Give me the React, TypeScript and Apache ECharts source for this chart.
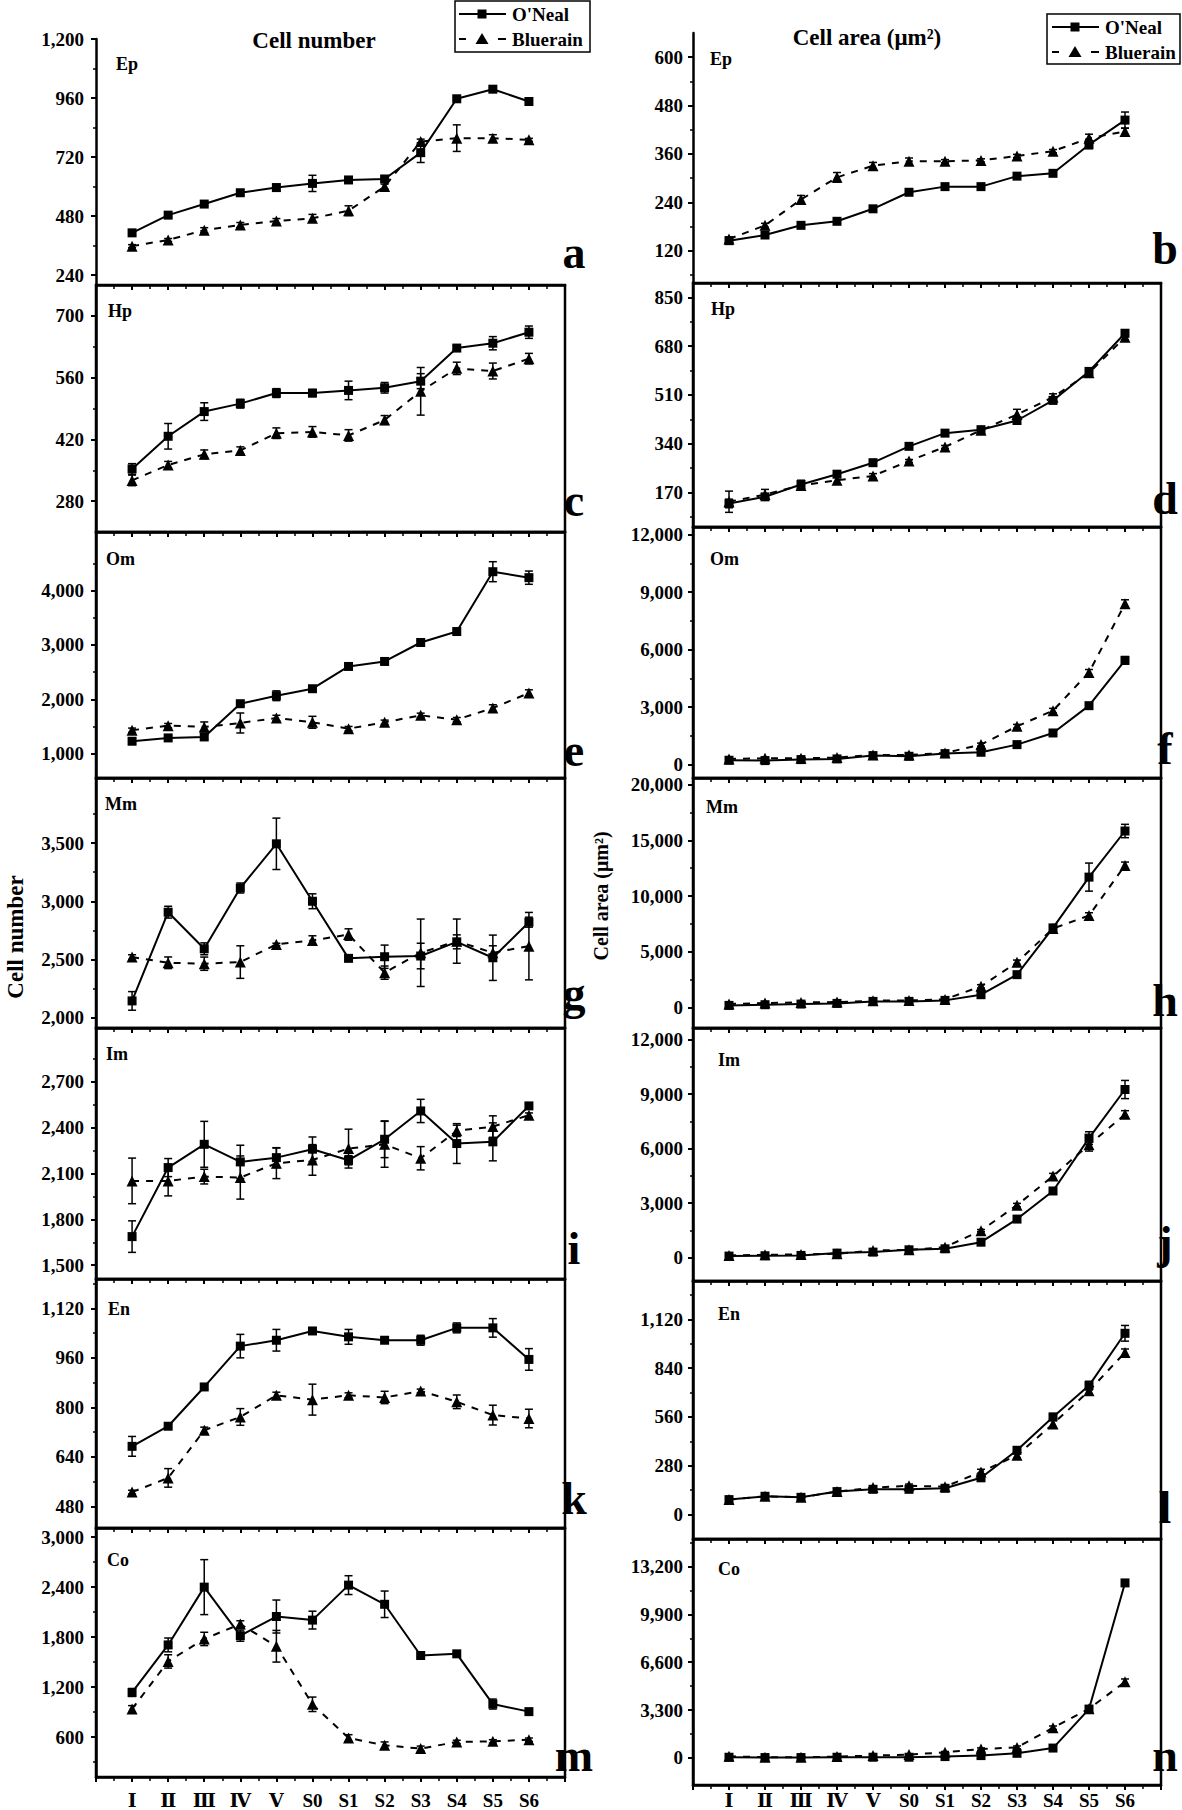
import React, { useEffect, useRef } from "react";
import * as echarts from "echarts";

const categories = ["Ⅰ", "Ⅱ", "Ⅲ", "Ⅳ", "Ⅴ", "S0", "S1", "S2", "S3", "S4", "S5", "S6"];
const seriesNames = ["O'Neal", "Bluerain"];

// a: Ep cell number
const epNumberONeal = [412, 484, 529, 575, 596, 613, 627, 631, 738, 957, 996, 946];
const epNumberONealErr = [6, 6, 6, 6, 14, 33, 6, 6, 40, 6, 6, 12];
const epNumberBluerain = [358, 383, 423, 444, 460, 471, 502, 600, 783, 797, 797, 790];
const epNumberBluerainErr = [6, 6, 10, 10, 10, 16, 20, 10, 10, 54, 14, 6];
const epNumberTicks = [240, 480, 720, 960, 1200];
const epNumberMinor = [360, 600, 840, 1080];

// b: Ep cell area
const epAreaONeal = [145, 159, 183, 193, 224, 265, 279, 279, 305, 312, 383, 444];
const epAreaONealErr = [5, 5, 5, 5, 5, 5, 5, 5, 6, 5, 10, 20];
const epAreaBluerain = [149, 183, 247, 302, 331, 342, 342, 344, 355, 367, 399, 416];
const epAreaBluerainErr = [5, 5, 10, 12, 8, 8, 4, 4, 4, 4, 10, 8];
const epAreaTicks = [120, 240, 360, 480, 600];
const epAreaMinor = [60, 180, 300, 420, 540];

// c: Hp cell number
const hpNumberONeal = [353, 427, 483, 501, 525, 525, 531, 537, 552, 627, 638, 663];
const hpNumberONealErr = [12, 29, 20, 10, 10, 8, 21, 12, 17, 5, 15, 14];
const hpNumberBluerain = [327, 362, 386, 395, 434, 437, 429, 464, 529, 581, 575, 603];
const hpNumberBluerainErr = [12, 8, 10, 8, 12, 12, 13, 10, 54, 14, 18, 12];
const hpNumberTicks = [280, 420, 560, 700];
const hpNumberMinor = [350, 490, 630];

// d: Hp cell area
const hpAreaONeal = [132, 155, 198, 234, 274, 331, 377, 389, 421, 491, 592, 725];
const hpAreaONealErr = [15, 10, 15, 10, 5, 5, 5, 8, 10, 8, 10, 12];
const hpAreaBluerain = [138, 163, 195, 213, 228, 280, 329, 387, 442, 502, 587, 711];
const hpAreaBluerainErr = [37, 18, 12, 10, 8, 5, 5, 8, 18, 12, 10, 10];
const hpAreaTicks = [170, 340, 510, 680, 850];
const hpAreaMinor = [85, 255, 425, 595, 765];

// e: Om cell number
const omNumberONeal = [1227, 1288, 1306, 1918, 2065, 2194, 2604, 2696, 3045, 3247, 4349, 4239];
const omNumberONealErr = [50, 40, 40, 40, 90, 50, 40, 40, 40, 40, 184, 122];
const omNumberBluerain = [1429, 1514, 1490, 1563, 1655, 1576, 1459, 1576, 1704, 1624, 1839, 2114];
const omNumberBluerainErr = [40, 40, 92, 184, 50, 110, 40, 40, 40, 40, 60, 60];
const omNumberTicks = [1000, 2000, 3000, 4000];
const omNumberMinor = [1500, 2500, 3500, 4500];

// f: Om cell area
const omAreaONeal = [226, 208, 261, 295, 469, 434, 573, 643, 1042, 1650, 3075, 5438];
const omAreaONealErr = [50, 50, 50, 50, 50, 50, 50, 60, 80, 100, 150, 200];
const omAreaBluerain = [295, 330, 330, 365, 504, 504, 608, 1042, 1998, 2814, 4812, 8391];
const omAreaBluerainErr = [50, 50, 50, 50, 50, 50, 50, 80, 100, 120, 150, 210];
const omAreaTicks = [0, 3000, 6000, 9000, 12000];
const omAreaMinor = [1500, 4500, 7500, 10500];

// g: Mm cell number
const mmNumberONeal = [2143, 2906, 2591, 3114, 3494, 3000, 2509, 2523, 2529, 2651, 2514, 2820];
const mmNumberONealErr = [80, 51, 51, 43, 221, 64, 10, 100, 110, 60, 195, 43];
const mmNumberBluerain = [2520, 2471, 2463, 2477, 2629, 2663, 2714, 2386, 2557, 2657, 2557, 2614];
const mmNumberBluerainErr = [20, 50, 57, 140, 10, 40, 49, 57, 290, 190, 60, 290];
const mmNumberTicks = [2000, 2500, 3000, 3500];
const mmNumberMinor = [2250, 2750, 3250, 3750];

// h: Mm cell area
const mmAreaONeal = [180, 240, 300, 360, 540, 540, 630, 1140, 2940, 7140, 11700, 15840];
const mmAreaONealErr = [100, 100, 100, 100, 100, 100, 100, 150, 200, 250, 1260, 600];
const mmAreaBluerain = [300, 390, 450, 480, 600, 630, 720, 1890, 4050, 7080, 8250, 12750];
const mmAreaBluerainErr = [100, 100, 100, 100, 100, 100, 100, 150, 200, 250, 250, 300];
const mmAreaTicks = [0, 5000, 10000, 15000, 20000];
const mmAreaMinor = [2500, 7500, 12500, 17500];

// i: Im cell number
const imNumberONeal = [1687, 2138, 2290, 2175, 2203, 2258, 2186, 2323, 2508, 2295, 2306, 2541];
const imNumberONealErr = [103, 59, 150, 109, 65, 80, 30, 120, 76, 130, 124, 15];
const imNumberBluerain = [2051, 2051, 2079, 2073, 2166, 2188, 2262, 2290, 2199, 2378, 2406, 2480];
const imNumberBluerainErr = [149, 98, 48, 141, 100, 100, 127, 150, 76, 37, 70, 15];
const imNumberTicks = [1500, 1800, 2100, 2400, 2700];
const imNumberMinor = [1650, 1950, 2250, 2550, 2850];

// j: Im cell area
const imAreaONeal = [91, 109, 127, 255, 309, 436, 491, 855, 2127, 3673, 6582, 9255];
const imAreaONealErr = [50, 50, 50, 50, 50, 50, 50, 60, 100, 150, 350, 500];
const imAreaBluerain = [127, 164, 182, 218, 400, 436, 582, 1491, 2891, 4491, 6218, 7891];
const imAreaBluerainErr = [50, 50, 50, 50, 50, 50, 50, 60, 100, 150, 350, 200];
const imAreaTicks = [0, 3000, 6000, 9000, 12000];
const imAreaMinor = [1500, 4500, 7500, 10500];

// k: En cell number
const enNumberONeal = [674, 739, 866, 998, 1017, 1047, 1028, 1017, 1017, 1057, 1057, 955];
const enNumberONealErr = [32, 6, 6, 38, 35, 6, 24, 6, 16, 16, 30, 35];
const enNumberBluerain = [526, 572, 726, 769, 839, 825, 839, 832, 853, 818, 775, 764];
const enNumberBluerainErr = [6, 30, 10, 27, 10, 50, 8, 20, 6, 22, 32, 30];
const enNumberTicks = [480, 640, 800, 960, 1120];
const enNumberMinor = [560, 720, 880, 1040, 1200];

// l: En cell area
const enAreaONeal = [86, 105, 99, 132, 145, 145, 151, 211, 369, 560, 740, 1040];
const enAreaONealErr = [10, 10, 10, 10, 10, 10, 10, 15, 20, 20, 25, 45];
const enAreaBluerain = [86, 105, 99, 132, 155, 165, 160, 245, 340, 520, 710, 930];
const enAreaBluerainErr = [10, 10, 10, 10, 10, 10, 10, 15, 15, 20, 20, 20];
const enAreaTicks = [0, 280, 560, 840, 1120];
const enAreaMinor = [140, 420, 700, 980, 1260];

// m: Co cell number
const coNumberONeal = [1135, 1706, 2400, 1817, 2047, 2004, 2424, 2194, 1579, 1599, 996, 905];
const coNumberONealErr = [48, 83, 330, 67, 198, 107, 113, 159, 20, 20, 60, 20];
const coNumberBluerain = [937, 1508, 1778, 1956, 1690, 993, 588, 501, 461, 541, 548, 568];
const coNumberBluerainErr = [40, 80, 80, 40, 190, 87, 40, 40, 30, 20, 20, 20];
const coNumberTicks = [600, 1200, 1800, 2400, 3000];
const coNumberMinor = [300, 900, 1500, 2100, 2700];

// n: Co cell area
const coAreaONeal = [45, 23, 23, 45, 45, 45, 90, 158, 316, 678, 3368, 12070];
const coAreaONealErr = [60, 60, 60, 60, 60, 60, 60, 60, 80, 100, 150, 200];
const coAreaBluerain = [113, 45, 45, 90, 158, 226, 384, 610, 723, 2080, 3391, 5244];
const coAreaBluerainErr = [60, 60, 60, 60, 60, 60, 60, 80, 100, 120, 150, 200];
const coAreaTicks = [0, 3300, 6600, 9900, 13200];
const coAreaMinor = [1650, 4950, 8250, 11550, 14850];

const FONT = '"Liberation Serif", "Times New Roman", "DejaVu Serif", serif';

type Panel = {
  tissue: string; letter: string; col: number; top: number; bottom: number;
  min: number; max: number; ticks: number[]; minor: number[];
  oneal: number[]; onealErr: number[]; blue: number[]; blueErr: number[];
  boxed: boolean; nameDx: number; nameDy: number; letterBase: number; xLabels?: number;
};

const panels: Panel[] = [
  { tissue: "Ep", letter: "a", col: 0, top: 39, bottom: 285, min: 200, max: 1200, ticks: epNumberTicks, minor: epNumberMinor, oneal: epNumberONeal, onealErr: epNumberONealErr, blue: epNumberBluerain, blueErr: epNumberBluerainErr, boxed: false, nameDx: 20, nameDy: 16, letterBase: 267 },
  { tissue: "Ep", letter: "b", col: 1, top: 33, bottom: 283, min: 40, max: 660, ticks: epAreaTicks, minor: epAreaMinor, oneal: epAreaONeal, onealErr: epAreaONealErr, blue: epAreaBluerain, blueErr: epAreaBluerainErr, boxed: false, nameDx: 17, nameDy: 17, letterBase: 263 },
  { tissue: "Hp", letter: "c", col: 0, top: 285, bottom: 532, min: 210, max: 770, ticks: hpNumberTicks, minor: hpNumberMinor, oneal: hpNumberONeal, onealErr: hpNumberONealErr, blue: hpNumberBluerain, blueErr: hpNumberBluerainErr, boxed: true, nameDx: 12, nameDy: 17, letterBase: 515 },
  { tissue: "Hp", letter: "d", col: 1, top: 283, bottom: 527, min: 50, max: 900, ticks: hpAreaTicks, minor: hpAreaMinor, oneal: hpAreaONeal, onealErr: hpAreaONealErr, blue: hpAreaBluerain, blueErr: hpAreaBluerainErr, boxed: true, nameDx: 18, nameDy: 17, letterBase: 513 },
  { tissue: "Om", letter: "e", col: 0, top: 532, bottom: 778, min: 550, max: 5080, ticks: omNumberTicks, minor: omNumberMinor, oneal: omNumberONeal, onealErr: omNumberONealErr, blue: omNumberBluerain, blueErr: omNumberBluerainErr, boxed: true, nameDx: 10, nameDy: 18, letterBase: 765 },
  { tissue: "Om", letter: "f", col: 1, top: 527, bottom: 778, min: -700, max: 12400, ticks: omAreaTicks, minor: omAreaMinor, oneal: omAreaONeal, onealErr: omAreaONealErr, blue: omAreaBluerain, blueErr: omAreaBluerainErr, boxed: true, nameDx: 17, nameDy: 23, letterBase: 763 },
  { tissue: "Mm", letter: "g", col: 0, top: 778, bottom: 1028, min: 1910, max: 4060, ticks: mmNumberTicks, minor: mmNumberMinor, oneal: mmNumberONeal, onealErr: mmNumberONealErr, blue: mmNumberBluerain, blueErr: mmNumberBluerainErr, boxed: true, nameDx: 9, nameDy: 17, letterBase: 1008 },
  { tissue: "Mm", letter: "h", col: 1, top: 778, bottom: 1028, min: -1850, max: 20600, ticks: mmAreaTicks, minor: mmAreaMinor, oneal: mmAreaONeal, onealErr: mmAreaONealErr, blue: mmAreaBluerain, blueErr: mmAreaBluerainErr, boxed: true, nameDx: 13, nameDy: 20, letterBase: 1015 },
  { tissue: "Im", letter: "i", col: 0, top: 1028, bottom: 1279, min: 1410, max: 3050, ticks: imNumberTicks, minor: imNumberMinor, oneal: imNumberONeal, onealErr: imNumberONealErr, blue: imNumberBluerain, blueErr: imNumberBluerainErr, boxed: true, nameDx: 10, nameDy: 17, letterBase: 1263 },
  { tissue: "Im", letter: "j", col: 1, top: 1028, bottom: 1281, min: -1280, max: 12640, ticks: imAreaTicks, minor: imAreaMinor, oneal: imAreaONeal, onealErr: imAreaONealErr, blue: imAreaBluerain, blueErr: imAreaBluerainErr, boxed: true, nameDx: 25, nameDy: 23, letterBase: 1257 },
  { tissue: "En", letter: "k", col: 0, top: 1279, bottom: 1528, min: 410, max: 1215, ticks: enNumberTicks, minor: enNumberMinor, oneal: enNumberONeal, onealErr: enNumberONealErr, blue: enNumberBluerain, blueErr: enNumberBluerainErr, boxed: true, nameDx: 12, nameDy: 21, letterBase: 1513 },
  { tissue: "En", letter: "l", col: 1, top: 1281, bottom: 1539, min: -140, max: 1340, ticks: enAreaTicks, minor: enAreaMinor, oneal: enAreaONeal, onealErr: enAreaONealErr, blue: enAreaBluerain, blueErr: enAreaBluerainErr, boxed: true, nameDx: 25, nameDy: 24, letterBase: 1522 },
  { tissue: "Co", letter: "m", col: 0, top: 1528, bottom: 1779, min: 120, max: 3110, ticks: coNumberTicks, minor: coNumberMinor, oneal: coNumberONeal, onealErr: coNumberONealErr, blue: coNumberBluerain, blueErr: coNumberBluerainErr, boxed: true, nameDx: 11, nameDy: 23, letterBase: 1770, xLabels: 14 },
  { tissue: "Co", letter: "n", col: 1, top: 1539, bottom: 1788, min: -1870, max: 15100, ticks: coAreaTicks, minor: coAreaMinor, oneal: coAreaONeal, onealErr: coAreaONealErr, blue: coAreaBluerain, blueErr: coAreaBluerainErr, boxed: true, nameDx: 25, nameDy: 21, letterBase: 1770, xLabels: 6 },
];

const fmt = (v: number) => Math.round(v).toLocaleString("en-US");

function errorRender(params: any, api: any) {
  const x = api.value(0);
  const y = api.value(1);
  const e = api.value(2);
  const top = api.coord([x, y + e]);
  const bot = api.coord([x, y - e]);
  const w = 4;
  const st = { stroke: "#000", lineWidth: 1.5 };
  return {
    type: "group",
    children: [
      { type: "line", shape: { x1: top[0], y1: top[1], x2: bot[0], y2: bot[1] }, style: st },
      { type: "line", shape: { x1: top[0] - w, y1: top[1], x2: top[0] + w, y2: top[1] }, style: st },
      { type: "line", shape: { x1: bot[0] - w, y1: bot[1], x2: bot[0] + w, y2: bot[1] }, style: st },
    ],
  };
}

function legendGraphics(x: number, y: number, w: number, h: number, lx: number, y1: number, y2: number, tx: number) {
  const t = (text: string, yy: number) => ({
    type: "text", x: tx, y: yy,
    style: { text, fill: "#000", font: `bold 19px ${FONT}`, align: "left", verticalAlign: "middle" },
  });
  const mid = lx + 23;
  return [
    { type: "rect", shape: { x, y, width: w, height: h }, style: { fill: "#fff", stroke: "#000", lineWidth: 1.5 } },
    { type: "line", shape: { x1: lx, y1, x2: lx + 47, y2: y1 }, style: { stroke: "#000", lineWidth: 2 } },
    { type: "rect", shape: { x: mid - 4.5, y: y1 - 4.5, width: 9, height: 9 }, style: { fill: "#000" } },
    t(seriesNames[0], y1),
    { type: "line", shape: { x1: lx, y1: y2, x2: lx + 7, y2 }, style: { stroke: "#000", lineWidth: 2 } },
    { type: "line", shape: { x1: lx + 39, y1: y2, x2: lx + 47, y2 }, style: { stroke: "#000", lineWidth: 2 } },
    { type: "polygon", shape: { points: [[mid, y2 - 6], [mid - 6.5, y2 + 5], [mid + 6.5, y2 + 5]] }, style: { fill: "#000" } },
    t(seriesNames[1], y2),
  ];
}

export default function App() {
  const ref = useRef<HTMLDivElement>(null);
  useEffect(() => {
    document.body.style.margin = "0";
    const chart = echarts.init(ref.current!, null, { renderer: "svg" });
    const grids: any[] = [];
    const xAxes: any[] = [];
    const yAxes: any[] = [];
    const series: any[] = [];
    const graphics: any[] = [];
    const lineCol = { color: "#000", width: 2.5 };

    panels.forEach((p, i) => {
      const left = p.col === 0 ? 96 : 693;
      const width = p.col === 0 ? 469 : 468;
      grids.push({
        left, top: p.top, width, height: p.bottom - p.top,
        show: p.boxed, borderColor: "#000", borderWidth: 2.5, backgroundColor: "transparent",
      });
      xAxes.push({
        gridIndex: i, type: "value", min: 0, max: 13, interval: 1,
        axisLine: { show: true, onZero: false, lineStyle: lineCol },
        axisTick: { show: true, inside: false, length: 5, lineStyle: { color: "#000", width: 2 } },
        minorTick: { show: true, splitNumber: 2, length: 4, lineStyle: { color: "#000", width: 1.5 } },
        splitLine: { show: false },
        axisLabel: {
          show: p.xLabels !== undefined,
          margin: p.xLabels ?? 8,
          formatter: (v: number) => (Number.isInteger(v) && v >= 1 && v <= 12 ? categories[v - 1] : ""),
          fontFamily: FONT, fontWeight: "bold", fontSize: 19, color: "#000",
        },
      });
      yAxes.push({
        gridIndex: i, type: "value", min: p.min, max: p.max, position: "left",
        axisLine: { show: true, onZero: false, lineStyle: lineCol },
        axisTick: { show: true, inside: false, length: 5, customValues: p.ticks, lineStyle: { color: "#000", width: 2 } },
        axisLabel: {
          customValues: p.ticks, formatter: (v: number) => fmt(v), margin: p.col === 0 ? 12 : 10,
          fontFamily: FONT, fontWeight: "bold", fontSize: 19, color: "#000",
        },
        splitLine: { show: false },
      });
      yAxes.push({
        gridIndex: i, type: "value", min: p.min, max: p.max, position: "left", offset: 0,
        axisLine: { show: false },
        axisTick: { show: true, inside: false, length: 3, customValues: p.minor, lineStyle: { color: "#000", width: 1.5 } },
        axisLabel: { show: false },
        splitLine: { show: false },
      });
      const yi = i * 2;
      const mk = (vals: number[], errs: number[]) => vals.map((v, k) => [k + 1, v, errs[k]]);
      series.push({
        type: "custom", name: seriesNames[0] + " error", xAxisIndex: i, yAxisIndex: yi,
        dimensions: ["x", "y", "err"], encode: { x: 0, y: 1 }, data: mk(p.oneal, p.onealErr),
        renderItem: errorRender, z: 2, silent: true,
      });
      series.push({
        type: "custom", name: seriesNames[1] + " error", xAxisIndex: i, yAxisIndex: yi,
        dimensions: ["x", "y", "err"], encode: { x: 0, y: 1 }, data: mk(p.blue, p.blueErr),
        renderItem: errorRender, z: 2, silent: true,
      });
      series.push({
        type: "line", name: seriesNames[0], xAxisIndex: i, yAxisIndex: yi,
        data: p.oneal.map((v, k) => [k + 1, v]),
        symbol: "rect", symbolSize: 9, showSymbol: true,
        itemStyle: { color: "#000" }, lineStyle: { color: "#000", width: 2, type: "solid" }, z: 3,
      });
      series.push({
        type: "line", name: seriesNames[1], xAxisIndex: i, yAxisIndex: yi,
        data: p.blue.map((v, k) => [k + 1, v]),
        symbol: "triangle", symbolSize: 11, showSymbol: true,
        itemStyle: { color: "#000" }, lineStyle: { color: "#000", width: 2, type: [7, 7] }, z: 3,
      });
      graphics.push({
        type: "text", x: left + p.nameDx, y: p.top + p.nameDy,
        style: { text: p.tissue, fill: "#000", font: `bold 18px ${FONT}`, align: "left", verticalAlign: "top" },
      });
      graphics.push({
        type: "text", x: p.col === 0 ? left + width + 9 : left + width + 4, y: p.letterBase - 15,
        style: { text: p.letter, fill: "#000", font: `bold 46px ${FONT}`, align: "center", verticalAlign: "middle" },
      });
    });

    graphics.push({
      type: "text", x: 314, y: 40,
      style: { text: "Cell number", fill: "#000", font: `bold 23px ${FONT}`, align: "center", verticalAlign: "middle" },
    });
    graphics.push({
      type: "text", x: 867, y: 37,
      style: { text: "Cell area (μm²)", fill: "#000", font: `bold 23px ${FONT}`, align: "center", verticalAlign: "middle" },
    });
    graphics.push({
      type: "text", x: 15, y: 937, rotation: Math.PI / 2,
      style: { text: "Cell number", fill: "#000", font: `bold 23px ${FONT}`, align: "center", verticalAlign: "middle" },
    });
    graphics.push({
      type: "text", x: 601, y: 896, rotation: Math.PI / 2,
      style: { text: "Cell area (μm²)", fill: "#000", font: `bold 20px ${FONT}`, align: "center", verticalAlign: "middle" },
    });
    graphics.push(...legendGraphics(455, 1, 135, 51, 459, 14, 39, 512));
    graphics.push(...legendGraphics(1047, 14, 133, 50, 1052, 27, 52, 1105));

    chart.setOption({
      animation: false,
      backgroundColor: "#fff",
      grid: grids,
      xAxis: xAxes,
      yAxis: yAxes,
      series,
      graphic: { elements: graphics },
    });
    return () => chart.dispose();
  }, []);
  return (
    <div
      ref={ref}
      style={{ position: "absolute", left: 0, top: 0, width: 1182, height: 1810, background: "#fff" }}
    />
  );
}
